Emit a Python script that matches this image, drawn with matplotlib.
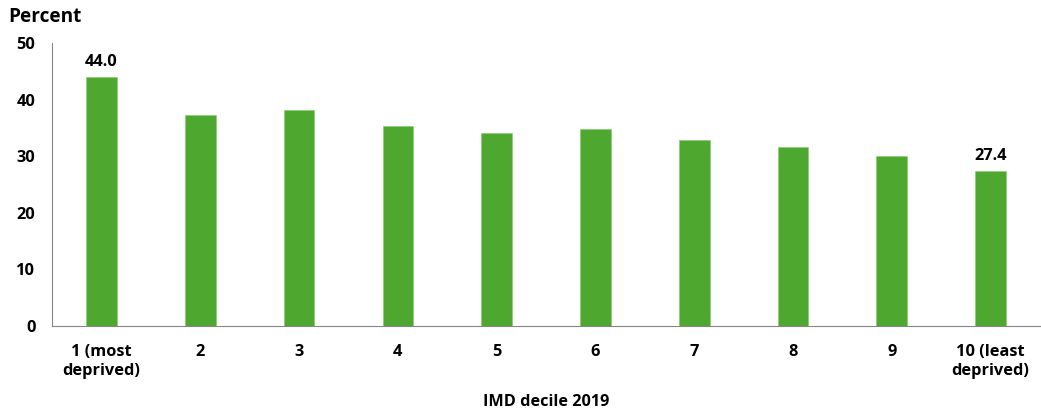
import matplotlib
matplotlib.use("Agg")
import matplotlib.pyplot as plt

deciles = ["1 (most\ndeprived)", "2", "3", "4", "5", "6", "7", "8", "9", "10 (least\ndeprived)"]
percent = [44.0, 37.4, 38.2, 35.4, 34.2, 34.9, 32.8, 31.6, 30.0, 27.4]
labelled = [0, 9]
yticks = [0, 10, 20, 30, 40, 50]

plt.rcParams["font.family"] = ["Open Sans", "DejaVu Sans"]
plt.rcParams["font.weight"] = "bold"

fig = plt.figure(figsize=(10.41, 4.13), dpi=100)
ax = fig.add_axes([0.05, 0.2114, 0.949, 0.6836])

x = range(len(deciles))
ax.bar(x, percent, width=0.31, color="#4EA72E", edgecolor="#8FD07A", linewidth=0.6)

for i in labelled:
    ax.annotate(f"{percent[i]:.1f}", (i, percent[i]), xytext=(0, 5), textcoords="offset points",
                ha="center", va="bottom", fontsize=11.8, fontweight="bold")

ax.set_xlim(-0.5, len(deciles) - 0.5)
ax.set_ylim(0, 50)
ax.set_yticks(yticks)
ax.set_xticks(list(x))
ax.set_xticklabels(deciles, linespacing=1.25)
ax.tick_params(axis="both", length=0, labelsize=11.8)
ax.tick_params(axis="y", pad=12)
ax.tick_params(axis="x", pad=13)
for lab in ax.get_xticklabels() + ax.get_yticklabels():
    lab.set_fontweight("bold")

for s in ["top", "right"]:
    ax.spines[s].set_visible(False)
ax.spines["left"].set_color("#868686")
ax.spines["bottom"].set_color("#868686")

fig.text(0.5245, 0.027, "IMD decile 2019", ha="center", va="center", fontsize=11.7, fontweight="bold")
fig.text(0.008, 0.958, "Percent", ha="left", va="center", fontsize=13.7, fontweight="bold")

fig.savefig("out.png", dpi=100)
